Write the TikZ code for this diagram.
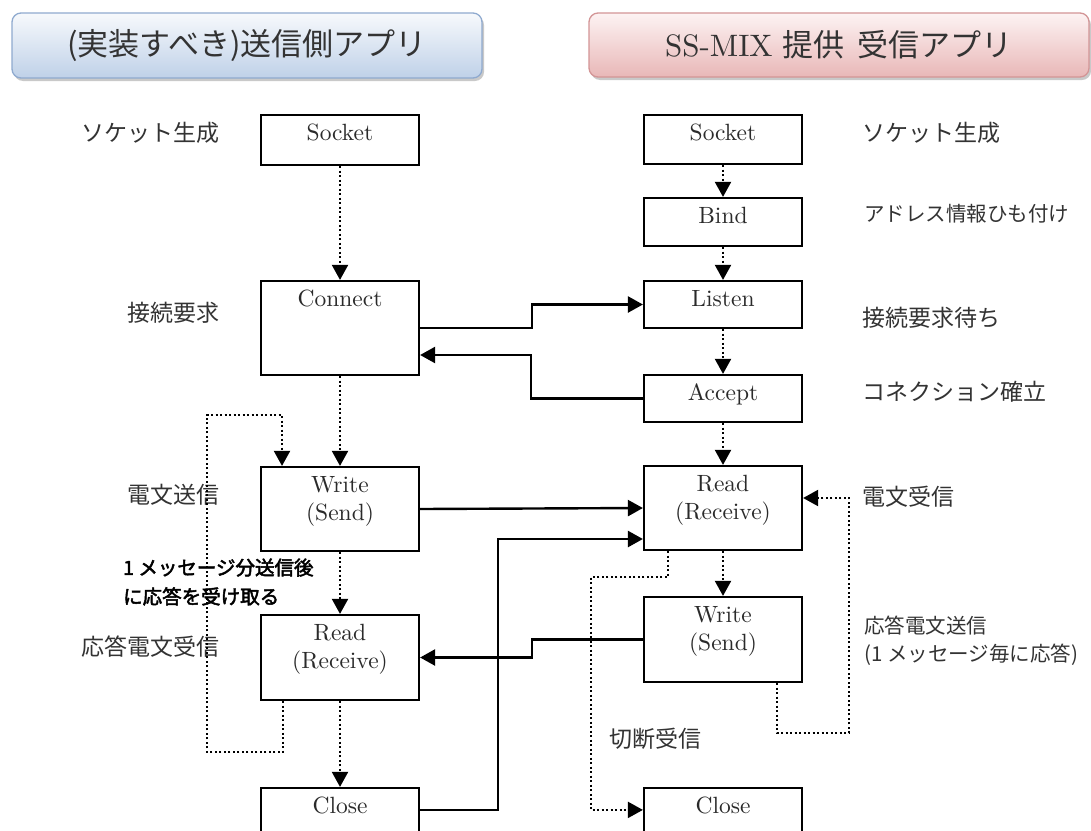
\documentclass[tikz,border=0pt]{standalone}
\usepackage{fontspec}
\newfontfamily\cjk{Noto Sans CJK JP}
\newfontfamily\cjkb[FakeBold=2.5]{Noto Sans CJK JP}
\newfontfamily\boxfont{lmroman10-regular.otf}
\usetikzlibrary{arrows.meta,shadows}
\definecolor{hbTop}{HTML}{F7F9FC}
\definecolor{hbBot}{HTML}{BFD1E8}
\definecolor{hbBorder}{HTML}{8FAACF}
\definecolor{hpTop}{HTML}{FDF3F3}
\definecolor{hpBot}{HTML}{E8B7B7}
\definecolor{hpBorder}{HTML}{D39596}
\definecolor{txt}{HTML}{333333}
\definecolor{btxt}{HTML}{2A2A2A}
\begin{document}
\begin{tikzpicture}[x=1pt,y=-1pt,
  hdr/.style={rounded corners=9pt, line width=1.3pt, text=txt,
    font=\fontsize{31}{36}\selectfont,
    drop shadow={shadow xshift=2pt,shadow yshift=-3pt,opacity=0.35,fill=black!60}},
  box/.style={draw, line width=2.2pt, minimum width=158pt, inner sep=0pt},
  boxlbl/.style={anchor=north, inner sep=0pt, yshift=-10pt, align=center, text=btxt,
    font=\boxfont\fontsize{23.5}{28}\selectfont},
  jl/.style={inner sep=0pt, text=txt, font=\cjk\fontsize{23}{28}\selectfont, align=left},
  jls/.style={inner sep=0pt, text=txt, font=\cjk\fontsize{20.5}{28}\selectfont, align=left},
  jb/.style={inner sep=0pt, text=black, font=\cjkb\fontsize{19.5}{29}\selectfont, align=left},
  solidarrow/.style={line width=2.4pt, line join=miter, -{Triangle[length=15pt,width=16pt]}},
  dotarrow/.style={line width=2pt, dash pattern=on 2pt off 2.5pt, -{Triangle[length=15pt,width=16pt]}}
]
\useasboundingbox (0,0) rectangle (1091,830);
\fill[white] (0,0) rectangle (1091,830);
\clip (0,0) rectangle (1091,830);

% headers
\node[hdr, top color=hbTop, bottom color=hbBot, draw=hbBorder,
  minimum width=470pt, minimum height=65pt] (hL) at (247,45.5) {\cjk (実装すべき)送信側アプリ};
\node[hdr, top color=hpTop, bottom color=hpBot, draw=hpBorder,
  minimum width=500pt, minimum height=64pt] (hR) at (839,45) {{\boxfont\fontsize{31}{36}\selectfont SS-MIX} {\cjk 提供\ \ 受信アプリ}};

% left column boxes
\node[box, minimum height=50pt, label={[boxlbl]north:Socket}] (sS) at (340,140) {};
\node[box, minimum height=94pt, label={[boxlbl]north:Connect}] (sC) at (340,328) {};
\node[box, minimum height=84pt, label={[boxlbl]north:Write\\(Send)}] (sW) at (340,509) {};
\node[box, minimum height=85pt, label={[boxlbl]north:Read\\(Receive)}] (sR) at (340,657.5) {};
\node[box, minimum height=84pt, label={[boxlbl]north:Close}] (sX) at (340,830) {};

% right column boxes
\node[box, minimum height=49pt, label={[boxlbl]north:Socket}] (rS) at (723,139.5) {};
\node[box, minimum height=48pt, label={[boxlbl]north:Bind}] (rB) at (723,222) {};
\node[box, minimum height=47pt, label={[boxlbl]north:Listen}] (rL) at (723,304.5) {};
\node[box, minimum height=47pt, label={[boxlbl]north:Accept}] (rA) at (723,398.5) {};
\node[box, minimum height=84pt, label={[boxlbl]north:Read\\(Receive)}] (rR) at (723,508) {};
\node[box, minimum height=85pt, label={[boxlbl]north:Write\\(Send)}] (rW) at (723,639.5) {};
\node[box, minimum height=84pt, label={[boxlbl]north:Close}] (rX) at (723,830) {};

% left labels
\node[jl, anchor=east] (l1) at (220,133) {ソケット生成};
\node[jl, anchor=east] (l2) at (220,313) {接続要求};
\node[jl, anchor=east] (l3) at (220,495) {電文送信};
\node[jl, anchor=east] (l4) at (220,647) {応答電文受信};
\node[jb, anchor=west] (lb) at (123,582) {1 メッセージ分送信後\\に応答を受け取る};

% right labels
\node[jl, anchor=west] (r1) at (862,133) {ソケット生成};
\node[jls, anchor=west] (r2) at (864,214) {アドレス情報ひも付け};
\node[jl, anchor=west] (r3) at (862,318) {接続要求待ち};
\node[jl, anchor=west] (r4) at (862,392) {コネクション確立};
\node[jl, anchor=west] (r5) at (862,497) {電文受信};
\node[jls, anchor=west] (r6) at (864,641) {応答電文送信\\(1 メッセージ毎に応答)};
\node[jl, anchor=west] (r7) at (609,739) {切断受信};

% dotted flow arrows
\draw[dotarrow] (sS.south) -- (sC.north);
\draw[dotarrow] (sC.south) -- (sW.north);
\draw[dotarrow] (sW.south) -- (sR.north);
\draw[dotarrow] (sR.south) -- (sX.north);
\draw[dotarrow] (rS.south) -- (rB.north);
\draw[dotarrow] (rB.south) -- (rL.north);
\draw[dotarrow] (rL.south) -- (rA.north);
\draw[dotarrow] (rA.south) -- (rR.north);
\draw[dotarrow] (rR.south) -- (rW.north);

% left loop
\coordinate (d3) at (207,752);
\coordinate (d4) at (207,415);
\draw[dotarrow] ([xshift=-57pt]sR.south) |- (d3) -- (d4) -| ([xshift=-58pt]sW.north);

% right loop
\coordinate (d2) at (849,733);
\draw[dotarrow] ([xshift=54pt]rW.south) |- (d2) |- ([yshift=10pt]rR.east);

% read -> close (disconnect)
\coordinate (d1) at (591,577);
\draw[dotarrow] ([xshift=-55pt]rR.south) |- (d1) |- ([yshift=-23pt]rX.north west);

% solid messages
\draw[solidarrow] (sC.east) -- ++(112,0) |- (rL.west);
\draw[solidarrow] (rA.west) -- ++(-112,0) |- ([yshift=-27pt]sC.east);
\draw[solidarrow] (sW.east) -- (rR.west);
\draw[solidarrow] ([yshift=-23pt]sX.north east) -- ++(78,0) |- ([yshift=-31pt]rR.west);
\draw[solidarrow] (rW.west) -- ++(-111,0) |- (sR.east);
\end{tikzpicture}
\end{document}
